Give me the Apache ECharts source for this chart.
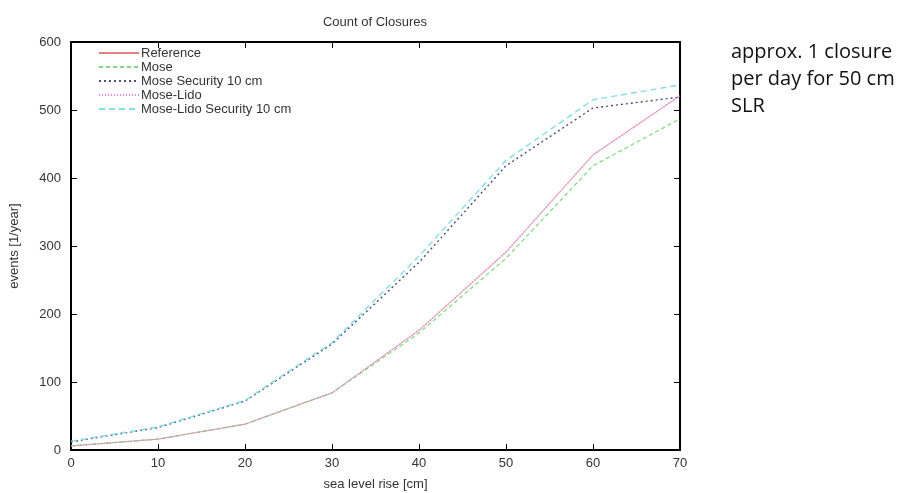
<!DOCTYPE html>
<html><head><meta charset="utf-8">
<script src="https://cdn.jsdelivr.net/npm/echarts@6/dist/echarts.min.js"></script>
<style>html,body{margin:0;padding:0;background:#fff}#c{width:905px;height:493px}</style>
</head><body><div id="c"></div>
<script>
var seaLevel = [0, 10, 20, 30, 40, 50, 60, 70];
var reference = [6, 16, 38, 84, 176, 291, 434, 521];
var mose = [6, 16, 38, 84, 172, 282, 418, 487];
var moseSecurity = [12, 33, 72, 156, 276, 418, 503, 519];
var moseLido = [6, 16, 38, 84, 176, 291, 434, 521];
var moseLidoSecurity = [13, 34, 73, 158, 285, 426, 515, 537];
var yTicks = [0, 100, 200, 300, 400, 500, 600];
var names = ['Reference', 'Mose', 'Mose Security 10 cm', 'Mose-Lido', 'Mose-Lido Security 10 cm'];

function pairs(v){ return seaLevel.map(function(x,i){return [x, v[i]];}); }

var chart = echarts.init(document.getElementById('c'));
var tickStyle = {show:true, inside:true, length:6, lineStyle:{color:'#000', width:1}};
var lbl = {color:'#333', fontFamily:'Liberation Sans, Arial', fontSize:13};
function mkSeries(name, data, color, type, width){
  return {name:name, type:'line', data:pairs(data), symbol:'none', xAxisIndex:0, yAxisIndex:0,
    lineStyle:{color:color, type:type, width:width||1}, itemStyle:{color:color}, animation:false};
}
chart.setOption({
  animation:false,
  title:{text:'Count of Closures', left:370, top:11, textAlign:'center',
    textStyle:{fontFamily:'Liberation Sans, Arial', fontSize:13, fontWeight:'normal', color:'#333'}},
  grid:{left:71, right:225, top:42, bottom:43, containLabel:false, outerBoundsMode:'none'},
  legend:{orient:'vertical', left:93, top:41, itemWidth:40, itemHeight:14, itemGap:0,
    itemStyle:{opacity:0},
    data:names, textStyle:{fontFamily:'Liberation Sans, Arial', fontSize:13, lineHeight:14, color:'#333', padding:[0,0,0,-3]}},
  xAxis:[
    {type:'value', min:0, max:70, interval:10, position:'bottom',
     axisLine:{show:true, onZero:false, lineStyle:{color:'#000', width:2}}, axisTick:tickStyle,
     axisLabel:Object.assign({margin:7}, lbl), splitLine:{show:false},
     name:'sea level rise [cm]', nameLocation:'middle', nameGap:28,
     nameTextStyle:{fontFamily:'Liberation Sans, Arial', fontSize:13, color:'#333'}},
    {type:'value', min:0, max:70, interval:10, position:'top',
     axisLine:{show:true, onZero:false, lineStyle:{color:'#000', width:2}}, axisTick:tickStyle,
     axisLabel:{show:false}, splitLine:{show:false}}
  ],
  yAxis:[
    {type:'value', min:0, max:600, interval:100, position:'left',
     axisLine:{show:true, onZero:false, lineStyle:{color:'#000', width:2}}, axisTick:tickStyle,
     axisLabel:Object.assign({margin:10}, lbl), splitLine:{show:false},
     name:'events [1/year]', nameLocation:'middle', nameGap:50, nameRotate:90,
     nameTextStyle:{fontFamily:'Liberation Sans, Arial', fontSize:13, color:'#333'}},
    {type:'value', min:0, max:600, interval:100, position:'right',
     axisLine:{show:true, onZero:false, lineStyle:{color:'#000', width:2}}, axisTick:tickStyle,
     axisLabel:{show:false}, splitLine:{show:false}}
  ],
  series:[
    mkSeries(names[0], reference, '#e88080', 'solid', 0.8),
    mkSeries(names[1], mose, '#77dd77', [4,3], 1.2),
    mkSeries(names[2], moseSecurity, '#4a5078', [2,3], 1.4),
    mkSeries(names[3], moseLido, '#e080e0', [1,2], 1.4),
    mkSeries(names[4], moseLidoSecurity, '#80e0e8', [6,4], 1.4)
  ],
  graphic:[{type:'text', left:731, top:39,
    style:{text:'approx. 1 closure\nper day for 50 cm\nSLR', font:'20px "Open Sans", Lato, sans-serif',
      fill:'#111', lineHeight:27}}]
});
</script></body></html>
